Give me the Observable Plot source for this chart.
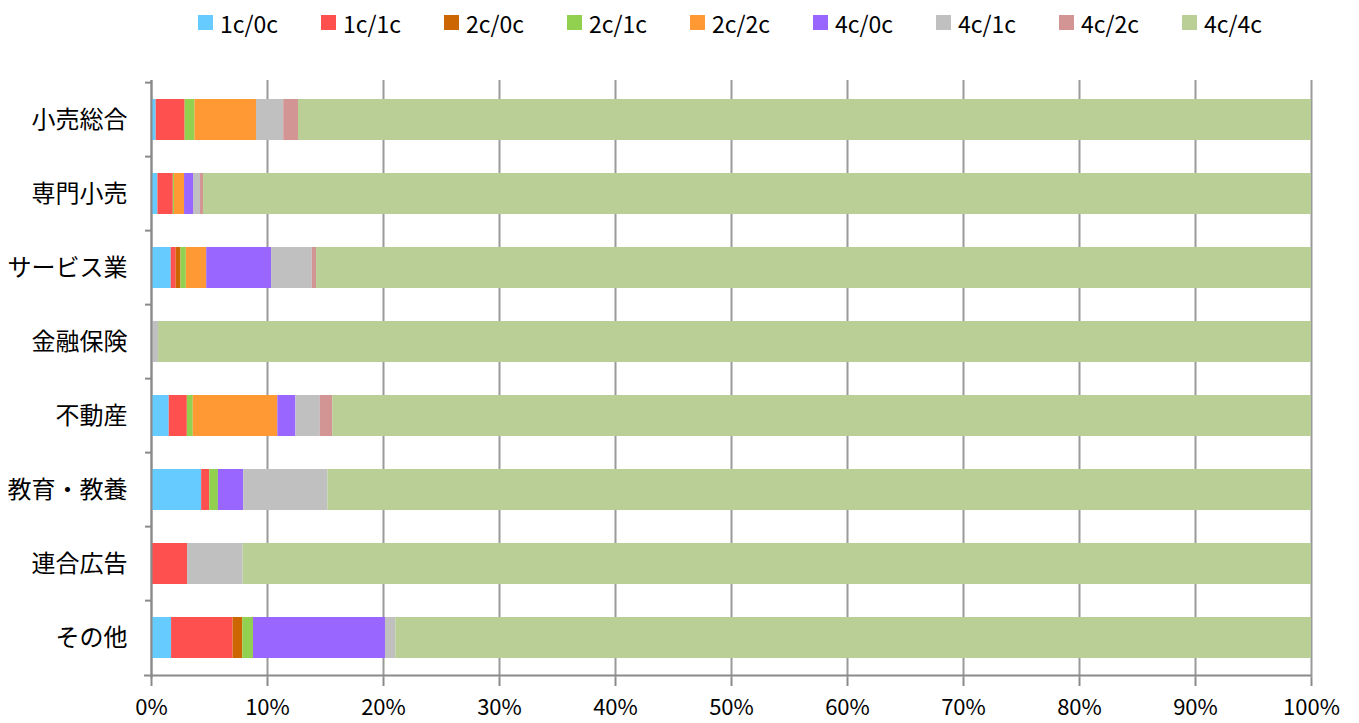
<!DOCTYPE html>
<html>
<head>
<meta charset="utf-8">
<script src="https://cdn.jsdelivr.net/npm/d3@7"></script>
<script src="https://cdn.jsdelivr.net/npm/@observablehq/plot@0.6"></script>
<style>
  html, body { margin: 0; padding: 0; background: #fff; }
  body { width: 1359px; height: 723px; overflow: hidden; font-family: "Noto Sans CJK JP", "Noto Sans", sans-serif; }
  #legend { height: 45px; display: flex; align-items: center; padding-left: 198px; box-sizing: border-box; font-size: 23px; color: #000; }
  #legend .item { width: 123px; display: flex; align-items: center; }
  #legend .sw { width: 15px; height: 15px; margin-right: 7px; flex: none; }
</style>
</head>
<body>
<div id="legend"></div>
<div id="chart"></div>
<script>
const categories = ["小売総合", "専門小売", "サービス業", "金融保険", "不動産", "教育・教養", "連合広告", "その他"];
const series = ["1c/0c", "1c/1c", "2c/0c", "2c/1c", "2c/2c", "4c/0c", "4c/1c", "4c/2c", "4c/4c"];
const colors = ["#66CCFF", "#FF5050", "#CC6600", "#92D050", "#FF9933", "#9966FF", "#C0C0C0", "#D39494", "#B9CF96"];

// percent share per series, in category order
const v1c0c = [0.40, 0.55, 1.70, 0.00, 1.53, 4.32, 0.00, 1.73];
const v1c1c = [2.50, 1.33, 0.43, 0.00, 1.56, 0.70, 3.11, 5.30];
const v2c0c = [0.00, 0.00, 0.41, 0.00, 0.00, 0.00, 0.00, 0.84];
const v2c1c = [0.85, 0.10, 0.46, 0.00, 0.51, 0.75, 0.00, 0.92];
const v2c2c = [5.30, 0.87, 1.76, 0.00, 7.29, 0.00, 0.00, 0.00];
const v4c0c = [0.00, 0.77, 5.59, 0.00, 1.56, 2.18, 0.00, 11.38];
const v4c1c = [2.35, 0.60, 3.51, 0.60, 2.10, 7.26, 4.79, 0.89];
const v4c2c = [1.27, 0.26, 0.37, 0.00, 1.07, 0.00, 0.00, 0.00];
const v4c4c = [87.33, 95.52, 85.77, 99.40, 84.38, 84.79, 92.10, 78.94];

const xTicks = [0, 10, 20, 30, 40, 50, 60, 70, 80, 90, 100];

const seriesValues = [v1c0c, v1c1c, v2c0c, v2c1c, v2c2c, v4c0c, v4c1c, v4c2c, v4c4c];
const data = [];
categories.forEach((c, i) => {
  series.forEach((s, j) => {
    data.push({category: c, series: s, value: seriesValues[j][i]});
  });
});

// legend
const legend = document.getElementById("legend");
series.forEach((s, j) => {
  const it = document.createElement("div");
  it.className = "item";
  it.innerHTML = `<span class="sw" style="background:${colors[j]}"></span><span>${s}</span>`;
  legend.appendChild(it);
});

const H = 678, mTop = 35, mBottom = 45;
const step = (H - mTop - mBottom) / categories.length;

const chart = Plot.plot({
  width: 1359,
  height: H,
  marginLeft: 151,
  marginRight: 48,
  marginTop: mTop,
  marginBottom: mBottom,
  style: {fontFamily: "'Noto Sans CJK JP', 'Noto Sans', sans-serif", color: "#000", background: "#fff"},
  x: {domain: [0, 100]},
  y: {domain: categories, paddingInner: 0.44, paddingOuter: 0.22, align: 0.5},
  color: {domain: series, range: colors},
  marks: [
    Plot.ruleX(xTicks, {stroke: "#9a9a9a", strokeWidth: 2}),
    Plot.barX(data, Plot.stackX({y: "category", x: "value", fill: "series", order: null})),
    Plot.ruleY(categories, {y: d => d, dy: -step / 2, x1: 0, x2: 0, insetLeft: -6, stroke: "#8a8a8a", strokeWidth: 2}),
    Plot.ruleY([categories[categories.length - 1]], {y: d => d, dy: step / 2, x1: 0, x2: 100, insetLeft: -7, stroke: "#8a8a8a", strokeWidth: 2}),
    Plot.ruleX([0], {stroke: "#8a8a8a", strokeWidth: 2}),
    Plot.axisX(xTicks, {tickSize: 8, tickPadding: 13, stroke: "#8a8a8a", strokeWidth: 2, fontSize: 22, tickFormat: d => d + "%", label: null}),
    Plot.axisY({tickSize: 0, tickPadding: 24, fontSize: 24, label: null})
  ]
});
document.getElementById("chart").appendChild(chart);
</script>
</body>
</html>
